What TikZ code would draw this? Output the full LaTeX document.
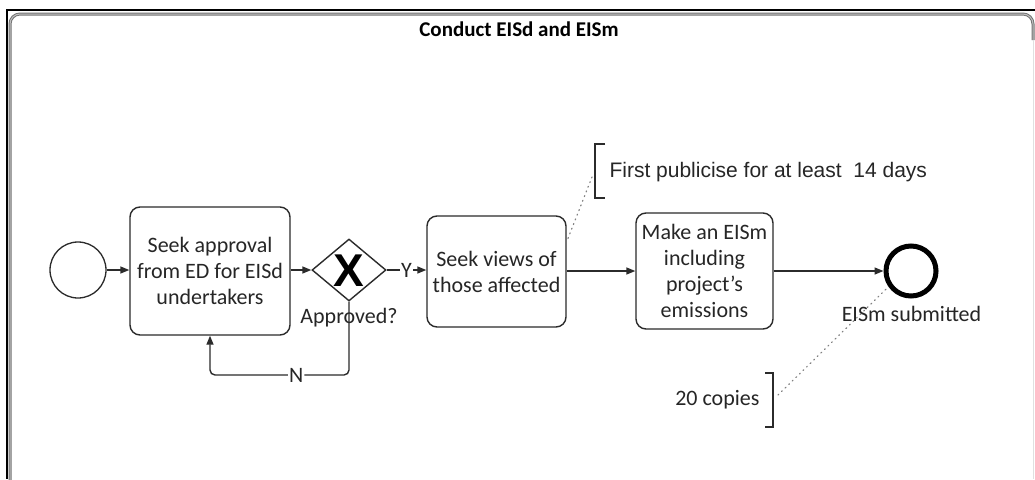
\documentclass[tikz,border=0pt]{standalone}
\usepackage{fontspec}
\setmainfont{Carlito}
\newfontfamily\arialfont{Liberation Sans}
\usetikzlibrary{arrows.meta,shapes.geometric}
\definecolor{ink}{HTML}{262626}
\definecolor{edge}{HTML}{2B2B2B}
\begin{document}
\begin{tikzpicture}[x=1pt,y=-1pt,
  every node/.style={text=ink},
  txt/.style={font=\fontsize{22}{26}\selectfont},
  task/.style={draw=edge,line width=1.4pt,rounded corners=10pt,align=center,
               inner sep=0pt,txt},
  startev/.style={circle,draw=edge,line width=1.3pt,minimum size=56pt,inner sep=0pt},
  endev/.style={circle,draw=black,line width=5pt,minimum size=50pt,inner sep=0pt},
  gate/.style={diamond,draw=edge,line width=1.4pt,minimum width=74pt,minimum height=62pt,
               inner sep=0pt,font=\arialfont\fontsize{46}{46}\selectfont\bfseries,text=black},
  flow/.style={draw=edge,line width=1.4pt,-{Triangle[length=9pt,width=7pt]}},
  lbl/.style={txt,fill=white,inner sep=1pt},
  assoc/.style={draw=gray,line width=1.2pt,dash pattern=on 1pt off 4pt,line cap=round},
  brk/.style={draw=edge,line width=1.4pt}
]
\useasboundingbox (0,0) rectangle (1035,479);
\fill[white] (0,0) rectangle (1035,479);

% pool frame
\draw[black!55,line width=3pt,rounded corners=10pt] (10,495) -- (10,14) -- (1033,14) -- (1033,40);
\draw[black!25,line width=1pt,rounded corners=10pt] (10,495) -- (10,14) -- (1033,14) -- (1033,40);
\draw[black!12,line width=1pt] (1033,40) -- (1033,479);
\draw[black,line width=2.2pt] (6,10) -- (1035,10);
\draw[black,line width=2.2pt] (7,9) -- (7,479);

% title
\node[font=\fontsize{21}{24}\selectfont\bfseries,text=black] (title) at (519,29) {Conduct EISd and EISm};

% flow objects
\node[startev] (start) at (78,270) {};
\node[task,minimum width=160pt,minimum height=128pt] (t1) at (210,271)
  {Seek approval\\from ED for EISd\\undertakers};
\node[gate] (gw) at (349,270) {};
\node[font=\arialfont\fontsize{46}{46}\selectfont\bfseries,text=black,inner sep=0pt] (gwx) at (349,271) {X};
\node[txt] (gwl) at (349,318) {Approved?};
\node[task,minimum width=139pt,minimum height=111pt] (t2) at (496.5,271.5)
  {Seek views of\\those affected};
\node[task,minimum width=137pt,minimum height=116pt] (t3) at (704.5,271)
  {Make an EISm\\including\\project’s\\emissions};
\node[endev] (end) at (911,271) {};
\node[txt] (endl) at (911.5,314) {EISm submitted};

% sequence flows
\draw[flow] (start) -- (t1.west |- start);
\draw[flow] (t1.east |- gw) -- (gw.west);
\draw[flow] (gw.east) -- node[lbl] (ylab) {Y} (t2.west |- gw);
\coordinate (loopL) at (210,375);
\draw[flow,rounded corners=5pt] (gw.south) |- node[lbl,pos=0.69] (nlab) {N} (loopL) -- (t1.south);
\draw[flow] (t2.east |- t3) -- (t3.west);
\draw[flow] (t3.east) -- (end.west);

% annotations
\node[anchor=west,font=\arialfont\fontsize{21}{26}\selectfont] (a1) at (606,172)
  {First publicise for at least\ \ 14 days};
\draw[brk] (605,144) -- (595,144) -- (595,198) -- (605,198);
\coordinate (a1c) at (592,177);
\draw[assoc] (a1c) -- (t2.23);

\node[anchor=east,txt] (a2) at (763,400) {20 copies};
\draw[brk] (765,373) -- (773,373) -- (773,427) -- (765,427);
\coordinate (a2c) at (778,395);
\draw[assoc] (a2c) -- (end.215);
\end{tikzpicture}
\end{document}
